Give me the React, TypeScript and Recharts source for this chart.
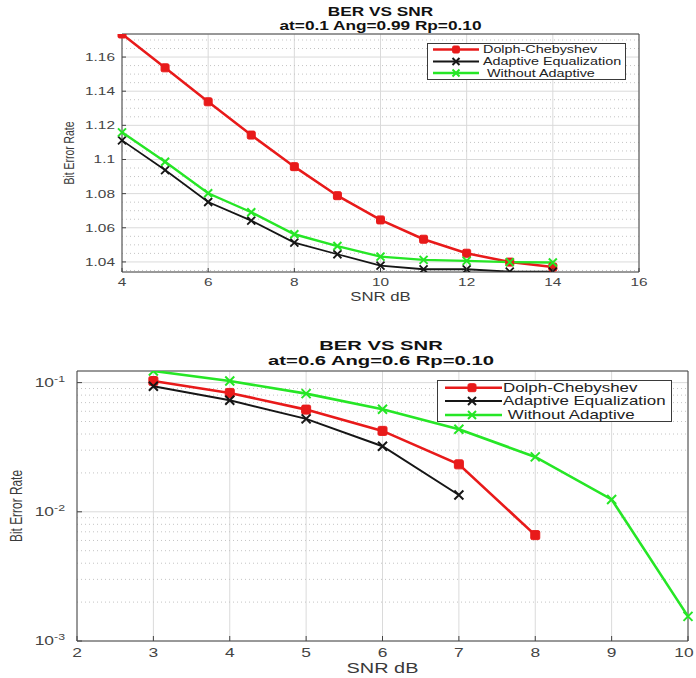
import React from 'react';
import { LineChart, Line, XAxis, YAxis, CartesianGrid, ReferenceLine, Legend } from 'recharts';

const FONT = '"Liberation Sans", Arial, Helvetica, sans-serif';

// ---------- Top chart data ----------
const snrTop = [4, 5, 6, 7, 8, 9, 10, 11, 12, 13, 14];
const dolphTop = [1.1735, 1.1537, 1.1338, 1.1143, 1.0958, 1.0788, 1.0646, 1.0533, 1.0451, 1.0399, 1.037];
const adaptTop = [1.1112, 1.0938, 1.0751, 1.0642, 1.0513, 1.0445, 1.0378, 1.0357, 1.0357, 1.0343, 1.0343];
const withoutTop = [1.1159, 1.0987, 1.0802, 1.0691, 1.0562, 1.0493, 1.0431, 1.0412, 1.0406, 1.0399, 1.0397];
const topXTicks = [4, 6, 8, 10, 12, 14, 16];
const topYTicks = [1.04, 1.06, 1.08, 1.1, 1.12, 1.14, 1.16];
const topYMinor = [1.035, 1.045, 1.05, 1.055, 1.065, 1.07, 1.075, 1.085, 1.09, 1.095, 1.105, 1.11, 1.115, 1.125, 1.13, 1.135, 1.145, 1.15, 1.155, 1.165, 1.17];
const topXDomain = [4, 16];
const topYDomain = [1.0341, 1.1735];

// ---------- Bottom chart data ----------
const snrBot = [3, 4, 5, 6, 7, 8, 9, 10];
const dolphBot = [0.1029, 0.0832, 0.0618, 0.0423, 0.0233, 0.0066, null, null];
const adaptBot = [0.0936, 0.073, 0.0524, 0.0322, 0.0135, null, null, null];
const withoutBot = [0.123, 0.1029, 0.0822, 0.0622, 0.0436, 0.0266, 0.01247, 0.00155];
const botXTicks = [2, 3, 4, 5, 6, 7, 8, 9, 10];
const botYTicks = [0.001, 0.01, 0.1];
const botYExp = ['-3', '-2', '-1'];
const botYMinor = [0.002, 0.003, 0.004, 0.005, 0.006, 0.007, 0.008, 0.009, 0.02, 0.03, 0.04, 0.05, 0.06, 0.07, 0.08, 0.09];
const botXDomain = [2, 10];
const botYDomain = [0.001, 0.123];

const seriesNames = ['Dolph-Chebyshev', 'Adaptive Equalization', ' Without Adaptive'];
const seriesColors = ['#e81a1a', '#161616', '#26e626'];

const topData = snrTop.map((s, i) => ({ snr: s, dolph: dolphTop[i], adapt: adaptTop[i], without: withoutTop[i] }));
const botData = snrBot.map((s, i) => ({ snr: s, dolph: dolphBot[i], adapt: adaptBot[i], without: withoutBot[i] }));

function SText({ x, y, size, sx = 1, sy = 1, weight = 'normal', anchor = 'middle', fill = '#333', rotate = 0, children }: any) {
  return (
    <text
      transform={`translate(${x},${y}) rotate(${rotate}) scale(${sx},${sy})`}
      textAnchor={anchor}
      fontSize={size}
      fontWeight={weight}
      fontFamily={FONT}
      fill={fill}
      style={{ whiteSpace: 'pre' }}
    >
      {children}
    </text>
  );
}

function Marker({ kind, cx, cy, color, s, w }: any) {
  if (kind === 'square') {
    return <rect x={cx - s} y={cy - s} width={2 * s} height={2 * s} rx={1.5} fill={color} stroke={color} strokeWidth={1} />;
  }
  return (
    <path
      d={`M${cx - s},${cy - s}L${cx + s},${cy + s}M${cx - s},${cy + s}L${cx + s},${cy - s}`}
      stroke={color}
      strokeWidth={w}
      fill="none"
    />
  );
}

const markerKinds = ['square', 'cross', 'cross'];

const makeDot = (idx: number, s: number, w: number) => (props: any) => {
  const { cx, cy, index } = props;
  if (cx == null || cy == null || isNaN(cx) || isNaN(cy) || props.value == null) return <g key={`e${idx}-${index}`} />;
  return (
    <g key={`d${idx}-${index}`}>
      <Marker kind={markerKinds[idx]} cx={cx} cy={cy} color={seriesColors[idx]} s={s} w={w} />
    </g>
  );
};

function LegendBox({ w, h, rowY, lx1, lx2, mx, tx, size, sx, ms, lw }: any) {
  return (
    <svg width={w} height={h} style={{ display: 'block' }}>
      <rect x={0.5} y={0.5} width={w - 1} height={h - 1} fill="#fff" stroke="#3a3a3a" strokeWidth={1} />
      {seriesNames.map((n, i) => (
        <g key={n}>
          <line x1={lx1} x2={lx2} y1={rowY[i]} y2={rowY[i]} stroke={seriesColors[i]} strokeWidth={lw[i]} />
          <Marker kind={markerKinds[i]} cx={mx} cy={rowY[i]} color={seriesColors[i]} s={ms} w={2} />
          <SText x={tx} y={rowY[i] + size * 0.36} size={size} sx={sx} anchor="start" fill="#222">{n}</SText>
        </g>
      ))}
    </svg>
  );
}

const AXIS = '#444';

const TopXTick = (p: any) => (
  <g>
    <line x1={p.x} x2={p.x} y1={p.y} y2={p.y - 4} stroke={AXIS} />
    <SText x={p.x} y={p.y + 14} size={11} sx={1.4} fill="#444">{String(p.payload.value)}</SText>
  </g>
);
const TopYTick = (p: any) => (
  <g>
    <line x1={p.x} x2={p.x + 4} y1={p.y} y2={p.y} stroke={AXIS} />
    <SText x={p.x - 7} y={p.y + 4} size={11} sx={1.4} anchor="end" fill="#444">{String(p.payload.value)}</SText>
  </g>
);
const BotXTick = (p: any) => (
  <g>
    <line x1={p.x} x2={p.x} y1={p.y} y2={p.y - 5} stroke={AXIS} />
    <SText x={Math.min(p.x, 684)} y={p.y + 16} size={12} sx={1.45} fill="#444">{String(p.payload.value)}</SText>
  </g>
);
const BotYTick = (p: any) => {
  const i = botYTicks.indexOf(p.payload.value);
  return (
    <g>
      <line x1={p.x} x2={p.x + 5} y1={p.y} y2={p.y} stroke={AXIS} />
      <text
        transform={`translate(${p.x - 12},${p.y + 4}) scale(1.45,1)`}
        textAnchor="end"
        fontFamily={FONT}
        fontSize={12}
        fill="#444"
      >
        10<tspan dy={-5} fontSize={8.5}>{botYExp[i]}</tspan>
      </text>
    </g>
  );
};

export default function App() {
  return (
    <div style={{ position: 'absolute', left: 0, top: 0, width: 696, height: 678, background: '#fff', overflow: 'hidden' }}>
      {/* Top chart */}
      <div style={{ position: 'absolute', left: 0, top: 0 }}>
        <LineChart width={696} height={310} data={topData} margin={{ top: 34, right: 57, bottom: 8, left: 0 }}>
          <CartesianGrid stroke="#dadada" strokeWidth={1} />
          {topYMinor.map((v) => (
            <ReferenceLine key={`m${v}`} y={v} stroke="#c4c4c4" strokeDasharray="1 3" />
          ))}
          <XAxis
            dataKey="snr"
            type="number"
            domain={topXDomain}
            ticks={topXTicks}
            height={30}
            tickSize={0}
            tickMargin={0}
            tickLine={false}
            axisLine={{ stroke: AXIS }}
            tick={TopXTick}
            label={(p: any) => {
              const vb = p.viewBox;
              return <SText x={vb.x + vb.width / 2} y={vb.y + 29} size={12} sx={1.4} fill="#3a3a3a">SNR dB</SText>;
            }}
          />
          <YAxis
            type="number"
            domain={topYDomain}
            ticks={topYTicks}
            allowDataOverflow
            width={122}
            tickSize={0}
            tickMargin={0}
            tickLine={false}
            axisLine={{ stroke: AXIS }}
            tick={TopYTick}
            label={(p: any) => {
              const vb = p.viewBox;
              return <SText x={74} y={vb.y + vb.height / 2} size={10.4} sy={1.4} rotate={-90} fill="#3a3a3a">Bit Error Rate</SText>;
            }}
          />
          <ReferenceLine x={topXDomain[1]} stroke={AXIS} />
          <ReferenceLine y={topYDomain[1]} stroke={AXIS} />
          <Line dataKey="dolph" name={seriesNames[0]} stroke={seriesColors[0]} strokeWidth={2.5} dot={makeDot(0, 4, 2)} isAnimationActive={false} />
          <Line dataKey="adapt" name={seriesNames[1]} stroke={seriesColors[1]} strokeWidth={1.8} dot={makeDot(1, 4, 1.8)} isAnimationActive={false} />
          <Line dataKey="without" name={seriesNames[2]} stroke={seriesColors[2]} strokeWidth={2.4} dot={makeDot(2, 4, 2)} isAnimationActive={false} />
          <Legend
            layout="horizontal"
            verticalAlign="middle"
            align="center"
            wrapperStyle={{ left: 427, top: 43, width: 199, height: 37, right: 'auto', bottom: 'auto', margin: 0, padding: 0 }}
            content={() => (
              <LegendBox w={199} h={37} rowY={[6.5, 18.5, 30]} lx1={6} lx2={52} mx={29} tx={56} size={10.5} sx={1.37} ms={3.5} lw={[2.5, 1.8, 2.4]} />
            )}
          />
        </LineChart>
      </div>

      {/* Bottom chart */}
      <div style={{ position: 'absolute', left: 0, top: 320 }}>
        <LineChart width={696} height={358} data={botData} margin={{ top: 51, right: 8, bottom: 7, left: 0 }}>
          <CartesianGrid stroke="#dadada" strokeWidth={1} />
          {botYMinor.map((v) => (
            <ReferenceLine key={`m${v}`} y={v} stroke="#c4c4c4" strokeDasharray="1 3" />
          ))}
          <XAxis
            dataKey="snr"
            type="number"
            domain={botXDomain}
            ticks={botXTicks}
            height={30}
            tickSize={0}
            tickMargin={0}
            tickLine={false}
            axisLine={{ stroke: AXIS }}
            tick={BotXTick}
            label={(p: any) => {
              const vb = p.viewBox;
              return <SText x={vb.x + vb.width / 2} y={vb.y + 32} size={14} sx={1.42} fill="#3a3a3a">SNR dB</SText>;
            }}
          />
          <YAxis
            type="number"
            scale="log"
            domain={botYDomain}
            ticks={botYTicks}
            allowDataOverflow
            width={77}
            tickSize={0}
            tickMargin={0}
            tickLine={false}
            axisLine={{ stroke: AXIS }}
            tick={BotYTick}
            label={(p: any) => {
              const vb = p.viewBox;
              return <SText x={22} y={vb.y + vb.height / 2} size={11.9} sy={1.4} rotate={-90} fill="#3a3a3a">Bit Error Rate</SText>;
            }}
          />
          <ReferenceLine x={botXDomain[1]} stroke={AXIS} />
          <ReferenceLine y={botYDomain[1]} stroke={AXIS} />
          <Line dataKey="dolph" name={seriesNames[0]} stroke={seriesColors[0]} strokeWidth={2.6} dot={makeDot(0, 4.5, 2)} isAnimationActive={false} />
          <Line dataKey="adapt" name={seriesNames[1]} stroke={seriesColors[1]} strokeWidth={2} dot={makeDot(1, 4.5, 2)} isAnimationActive={false} />
          <Line dataKey="without" name={seriesNames[2]} stroke={seriesColors[2]} strokeWidth={2.6} dot={makeDot(2, 4.5, 2)} isAnimationActive={false} />
          <Legend
            layout="horizontal"
            verticalAlign="middle"
            align="center"
            wrapperStyle={{ left: 437, top: 60, width: 235, height: 42, right: 'auto', bottom: 'auto', margin: 0, padding: 0 }}
            content={() => (
              <LegendBox w={235} h={42} rowY={[7.7, 21, 35]} lx1={8} lx2={65} mx={35} tx={66} size={12} sx={1.41} ms={4} lw={[2.6, 2, 2.6]} />
            )}
          />
        </LineChart>
      </div>

      {/* Titles */}
      <svg width={696} height={678} style={{ position: 'absolute', left: 0, top: 0, pointerEvents: 'none' }}>
        <SText x={380.5} y={16} size={12.5} sx={1.38} weight="bold" fill="#111">BER VS SNR</SText>
        <SText x={380.5} y={29.5} size={12.5} sx={1.38} weight="bold" fill="#111">at=0.1 Ang=0.99 Rp=0.10</SText>
        <SText x={381} y={349.5} size={13.5} sx={1.5} weight="bold" fill="#111">BER VS SNR</SText>
        <SText x={381} y={364.5} size={13.5} sx={1.5} weight="bold" fill="#111">at=0.6 Ang=0.6 Rp=0.10</SText>
      </svg>
    </div>
  );
}
